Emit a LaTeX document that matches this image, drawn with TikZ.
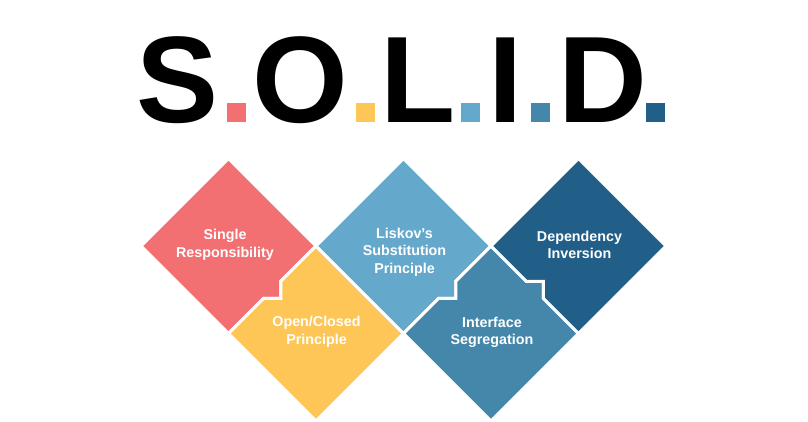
\documentclass[tikz,border=0pt]{standalone}
\usepackage{fontspec}
\setmainfont{Liberation Sans}
\definecolor{cS}{HTML}{F27072}
\definecolor{cO}{HTML}{FDC656}
\definecolor{cL}{HTML}{64A9CC}
\definecolor{cI}{HTML}{4487AA}
\definecolor{cD}{HTML}{215F89}
\begin{document}
\begin{tikzpicture}[x=1pt,y=-1pt,
  tile/.style={fill=#1,draw=white,line width=3pt,line join=miter},
  lbl/.style={text=white,font=\bfseries\fontsize{14.3}{17.5}\selectfont,align=center,inner sep=0pt},
  letter/.style={font=\bfseries\fontsize{123}{123}\selectfont,anchor=base,inner sep=0pt},
  dotsq/.style={fill=#1}]
\useasboundingbox (0,0) rectangle (808,422);
% title
\node[letter] (lS) at (178,123) {S};
\node[letter] (lO) at (300,123) {O};
\node[letter] (lL) at (418.5,123) {L};
\node[letter] (lI) at (506,123) {I};
\node[letter] (lD) at (602.5,123) {D};
\fill[dotsq=cS] (227,103.5) rectangle (246,122.5);
\fill[dotsq=cO] (356,103.5) rectangle (375,122.5);
\fill[dotsq=cL] (461,103.5) rectangle (480,122.5);
\fill[dotsq=cI] (531,103.5) rectangle (550,122.5);
\fill[dotsq=cD] (646,103.5) rectangle (665,122.5);
% tiles
\path[tile=cS] (141,246) -- (228.5,158.5) -- (316,246) -- (280.75,281.25) -- (280.75,298.25) -- (263.75,298.25) -- (228.5,333.5) -- cycle;
\path[tile=cO] (316,246) -- (403.5,333.5) -- (316,421) -- (228.5,333.5) -- (263.75,298.25) -- (280.75,298.25) -- (280.75,281.25) -- cycle;
\path[tile=cL] (316,246) -- (403.5,158.5) -- (491,246) -- (455.75,281.25) -- (455.75,298.25) -- (438.75,298.25) -- (403.5,333.5) -- cycle;
\path[tile=cI] (491,246) -- (526.25,281.25) -- (543.25,281.25) -- (543.25,298.25) -- (578.5,333.5) -- (491,421) -- (403.5,333.5) -- (438.75,298.25) -- (455.75,298.25) -- (455.75,281.25) -- cycle;
\path[tile=cD] (491,246) -- (578.5,158.5) -- (666,246) -- (578.5,333.5) -- (543.25,298.25) -- (543.25,281.25) -- (526.25,281.25) -- cycle;
% labels
\node[lbl] (tS) at (225,245) {Single\\Responsibility};
\node[lbl] (tO) at (316.5,332) {Open/Closed\\Principle};
\node[lbl] (tL) at (404.5,252) {Liskov’s\\Substitution\\Principle};
\node[lbl] (tI) at (492,332.5) {Interface\\Segregation};
\node[lbl] (tD) at (579.5,245) {Dependency\\Inversion};
\end{tikzpicture}
\end{document}
